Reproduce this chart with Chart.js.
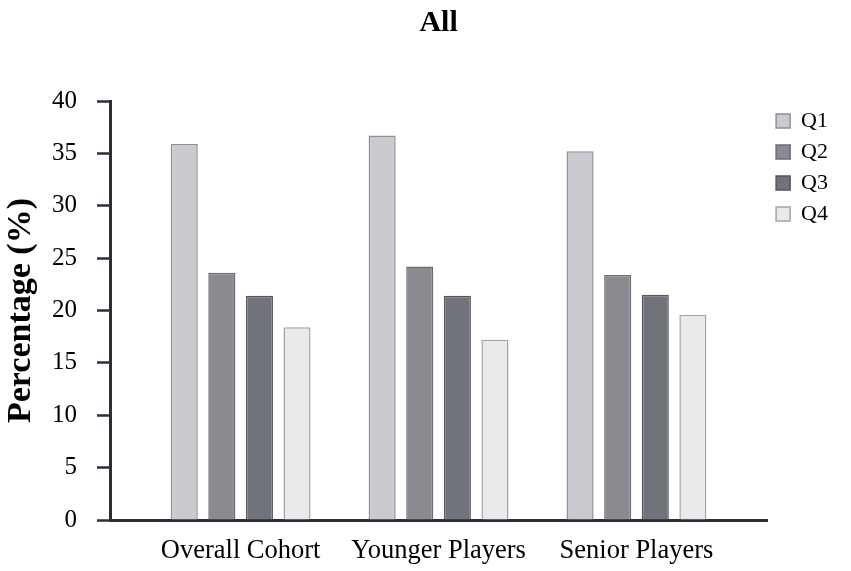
<!DOCTYPE html>
<html>
<head>
<meta charset="utf-8">
<script src="https://cdn.jsdelivr.net/npm/chart.js@4/dist/chart.umd.min.js"></script>
<style>
  html, body { margin: 0; padding: 0; background: #ffffff; }
  #wrap { width: 851px; height: 571px; position: relative; }
</style>
</head>
<body>
<div id="wrap"><canvas id="c"></canvas></div>
<script>
const categories = ["Overall Cohort", "Younger Players", "Senior Players"];
const seriesNames = ["Q1", "Q2", "Q3", "Q4"];
const q1 = [35.9, 36.7, 35.2];
const q2 = [23.6, 24.2, 23.4];
const q3 = [21.4, 21.4, 21.5];
const q4 = [18.4, 17.2, 19.6];
const yTicks = [0, 5, 10, 15, 20, 25, 30, 35, 40];

const fills = ["#c9cbd0", "#898b91", "#70737a", "#e9eaec"];
const borders = ["#8e9094", "#6b6d72", "#55575c", "#a3a4a7"];
const dark = "#2a2f39";
const serif = "'Liberation Serif', 'Times New Roman', serif";

const allSeries = [q1, q2, q3, q4];
const datasets = allSeries.map((vals, i) => ({
  label: seriesNames[i],
  data: vals.map((v, j) => ({ x: j, y: v })),
  backgroundColor: fills[i],
  borderColor: borders[i],
  borderWidth: 1.5,
  borderSkipped: 'bottom',
  categoryPercentage: 0.76,
  barPercentage: 0.72
}));

new Chart(document.getElementById('c'), {
  type: 'bar',
  data: { datasets },
  options: {
    responsive: true,
    maintainAspectRatio: false,
    animation: false,
    layout: { padding: { left: 0, right: 13, top: 0, bottom: 0 } },
    plugins: {
      title: {
        display: true,
        text: 'All',
        fullSize: false,
        color: '#000',
        font: { family: serif, size: 30, weight: 'bold' },
        padding: { top: 5, bottom: 60 }
      },
      legend: {
        display: true,
        position: 'right',
        align: 'start',
        fullSize: false,
        labels: {
          boxWidth: 14,
          boxHeight: 14,
          padding: 9,
          color: '#000',
          font: { family: serif, size: 22 }
        }
      },
      tooltip: { enabled: false }
    },
    scales: {
      x: {
        type: 'linear',
        min: -0.66,
        max: 2.66,
        offset: false,
        grid: { display: false, drawTicks: false },
        border: { display: true, color: dark, width: 3 },
        afterBuildTicks: (s) => { s.ticks = categories.map((_, i) => ({ value: i })); },
        afterFit: (s) => { s.height = 51; },
        ticks: {
          autoSkip: false,
          maxRotation: 0,
          padding: 15,
          color: '#000',
          font: { family: serif, size: 26.5 }
        ,
          callback: (v) => categories[v]
        }
      },
      y: {
        min: 0,
        max: 40,
        afterBuildTicks: (s) => { s.ticks = yTicks.map(v => ({ value: v })); },
        afterFit: (s) => { s.width = 110; },
        grid: {
          display: true,
          drawOnChartArea: false,
          drawTicks: true,
          tickLength: 13,
          tickWidth: 2.5,
          tickColor: dark,
          color: dark
        },
        border: { display: true, color: dark, width: 3 },
        ticks: {
          padding: 20,
          color: '#000',
          font: { family: serif, size: 25 }
        },
        title: {
          display: true,
          text: 'Percentage (%)',
          color: '#000',
          font: { family: serif, size: 34, weight: 'bold' },
          padding: { top: 1, bottom: 0 }
        }
      }
    }
  }
});
</script>
</body>
</html>
